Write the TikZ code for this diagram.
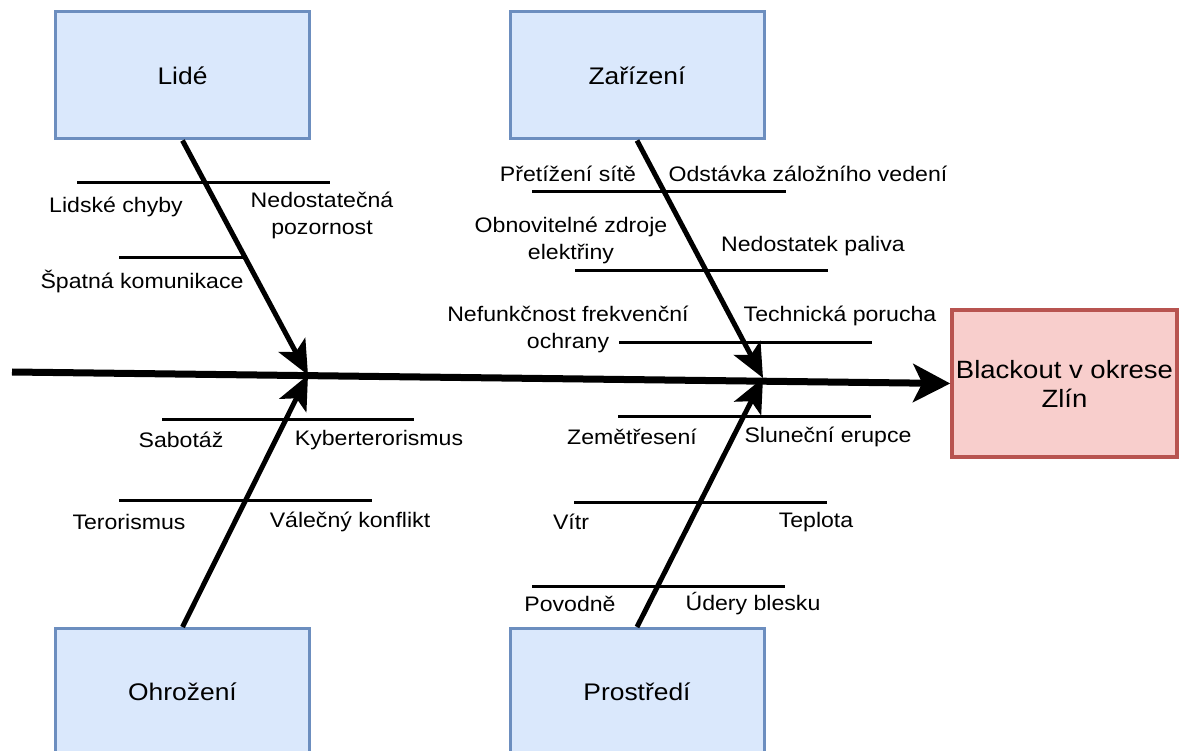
\documentclass[tikz,border=0pt]{standalone}
\usepackage{fontspec}
\setmainfont{Liberation Sans}[FakeStretch=1.1]
\usetikzlibrary{arrows.meta,calc}
\definecolor{causefill}{HTML}{DAE8FC}
\definecolor{causedraw}{HTML}{6C8EBF}
\definecolor{effectfill}{HTML}{F8CECC}
\definecolor{effectdraw}{HTML}{B85450}

\begin{document}
\begin{tikzpicture}[x=1pt,y=-1pt,
  cause/.style={draw=causedraw,fill=causefill,line width=3pt,
    minimum width=254pt,minimum height=127pt,
    font=\fontsize{24}{29}\selectfont},
  effect/.style={draw=effectdraw,fill=effectfill,line width=3.5pt,
    minimum width=225pt,minimum height=147pt,inner sep=2pt,align=center,
    font=\fontsize{25}{29}\selectfont},
  spine/.style={line width=7pt,-{Stealth[length=37pt,width=38pt,inset=9pt]}},
  bone/.style={line width=5pt,-{Stealth[length=34pt,width=30pt,inset=8pt]}},
  rib/.style={line width=3pt},
  lbl/.style={font=\fontsize{21}{27}\selectfont,align=center,inner sep=0pt}]

  \path[use as bounding box,clip] (0,0) rectangle (1179,751);

  % the four causes and the effect
  \path
    node[cause] (lide) at (182.5,75.5) {Lidé}
    node[cause] (zarizeni) at (637,75.5) {Zařízení}
    node[cause] (ohrozeni) at (182.5,692) {Ohrožení}
    node[cause] (prostredi) at (637,692) {Prostředí}
    node[effect] (blackout) at (1064.5,383.5) {Blackout v okrese\\Zlín}
    ;

  % where the bones meet the spine
  \coordinate (tail) at (12,372);
  \coordinate (j1) at (308,375);
  \coordinate (j2) at (763,378);

  \draw[spine] (tail) -- (blackout.west);
  \draw[bone] (lide.south) -- (j1);
  \draw[bone] (ohrozeni.north) -- (j1);
  \draw[bone] (zarizeni.south) -- (j2);
  \draw[bone] (prostredi.north) -- (j2);

  % ribs
  \foreach \a/\b/\y in {77/330/183, 119/246/258,
                        532/786/192, 575/828/271, 619/872/343,
                        162/414/420, 119/372/500,
                        618/871/417, 574/827/502, 532/785/586}{
  \coordinate (ra) at (\a,\y);
  \coordinate (rb) at (\b,\y);
  \draw[rib] (ra) -- (rb);
  }

  % Annotations
  \path
    node[lbl] (chyby) at (116,207) {Lidské chyby}
    node[lbl] (pozornost) at (322,215) {Nedostatečná\\pozornost}
    node[lbl] (komunikace) at (142,282) {Špatná komunikace}
    %
    node[lbl] (pretizeni) at (568,174) {Přetížení sítě}
    node[lbl] (odstavka) at (808,174) {Odstávka záložního vedení}
    node[lbl] (obnovitelne) at (571,240) {Obnovitelné zdroje\\elektřiny}
    node[lbl] (palivo) at (813,246) {Nedostatek paliva}
    node[lbl] (nefunkcnost) at (568,329) {Nefunkčnost frekvenční\\ochrany}
    node[lbl] (porucha) at (840,316) {Technická porucha}
    %
    node[lbl] (sabotaz) at (181,440) {Sabotáž}
    node[lbl] (kyber) at (379,440) {Kyberterorismus}
    node[lbl] (terorismus) at (129,522) {Terorismus}
    node[lbl] (valka) at (350,522) {Válečný konflikt}
    %
    node[lbl] (zemetreseni) at (632,437) {Zemětřesení}
    node[lbl] (erupce) at (828,437) {Sluneční erupce}
    node[lbl] (vitr) at (571,522) {Vítr}
    node[lbl] (teplota) at (816,522) {Teplota}
    node[lbl] (povodne) at (570,604) {Povodně}
    node[lbl] (blesk) at (753,604) {Údery blesku}
    ;

\end{tikzpicture}
\end{document}
